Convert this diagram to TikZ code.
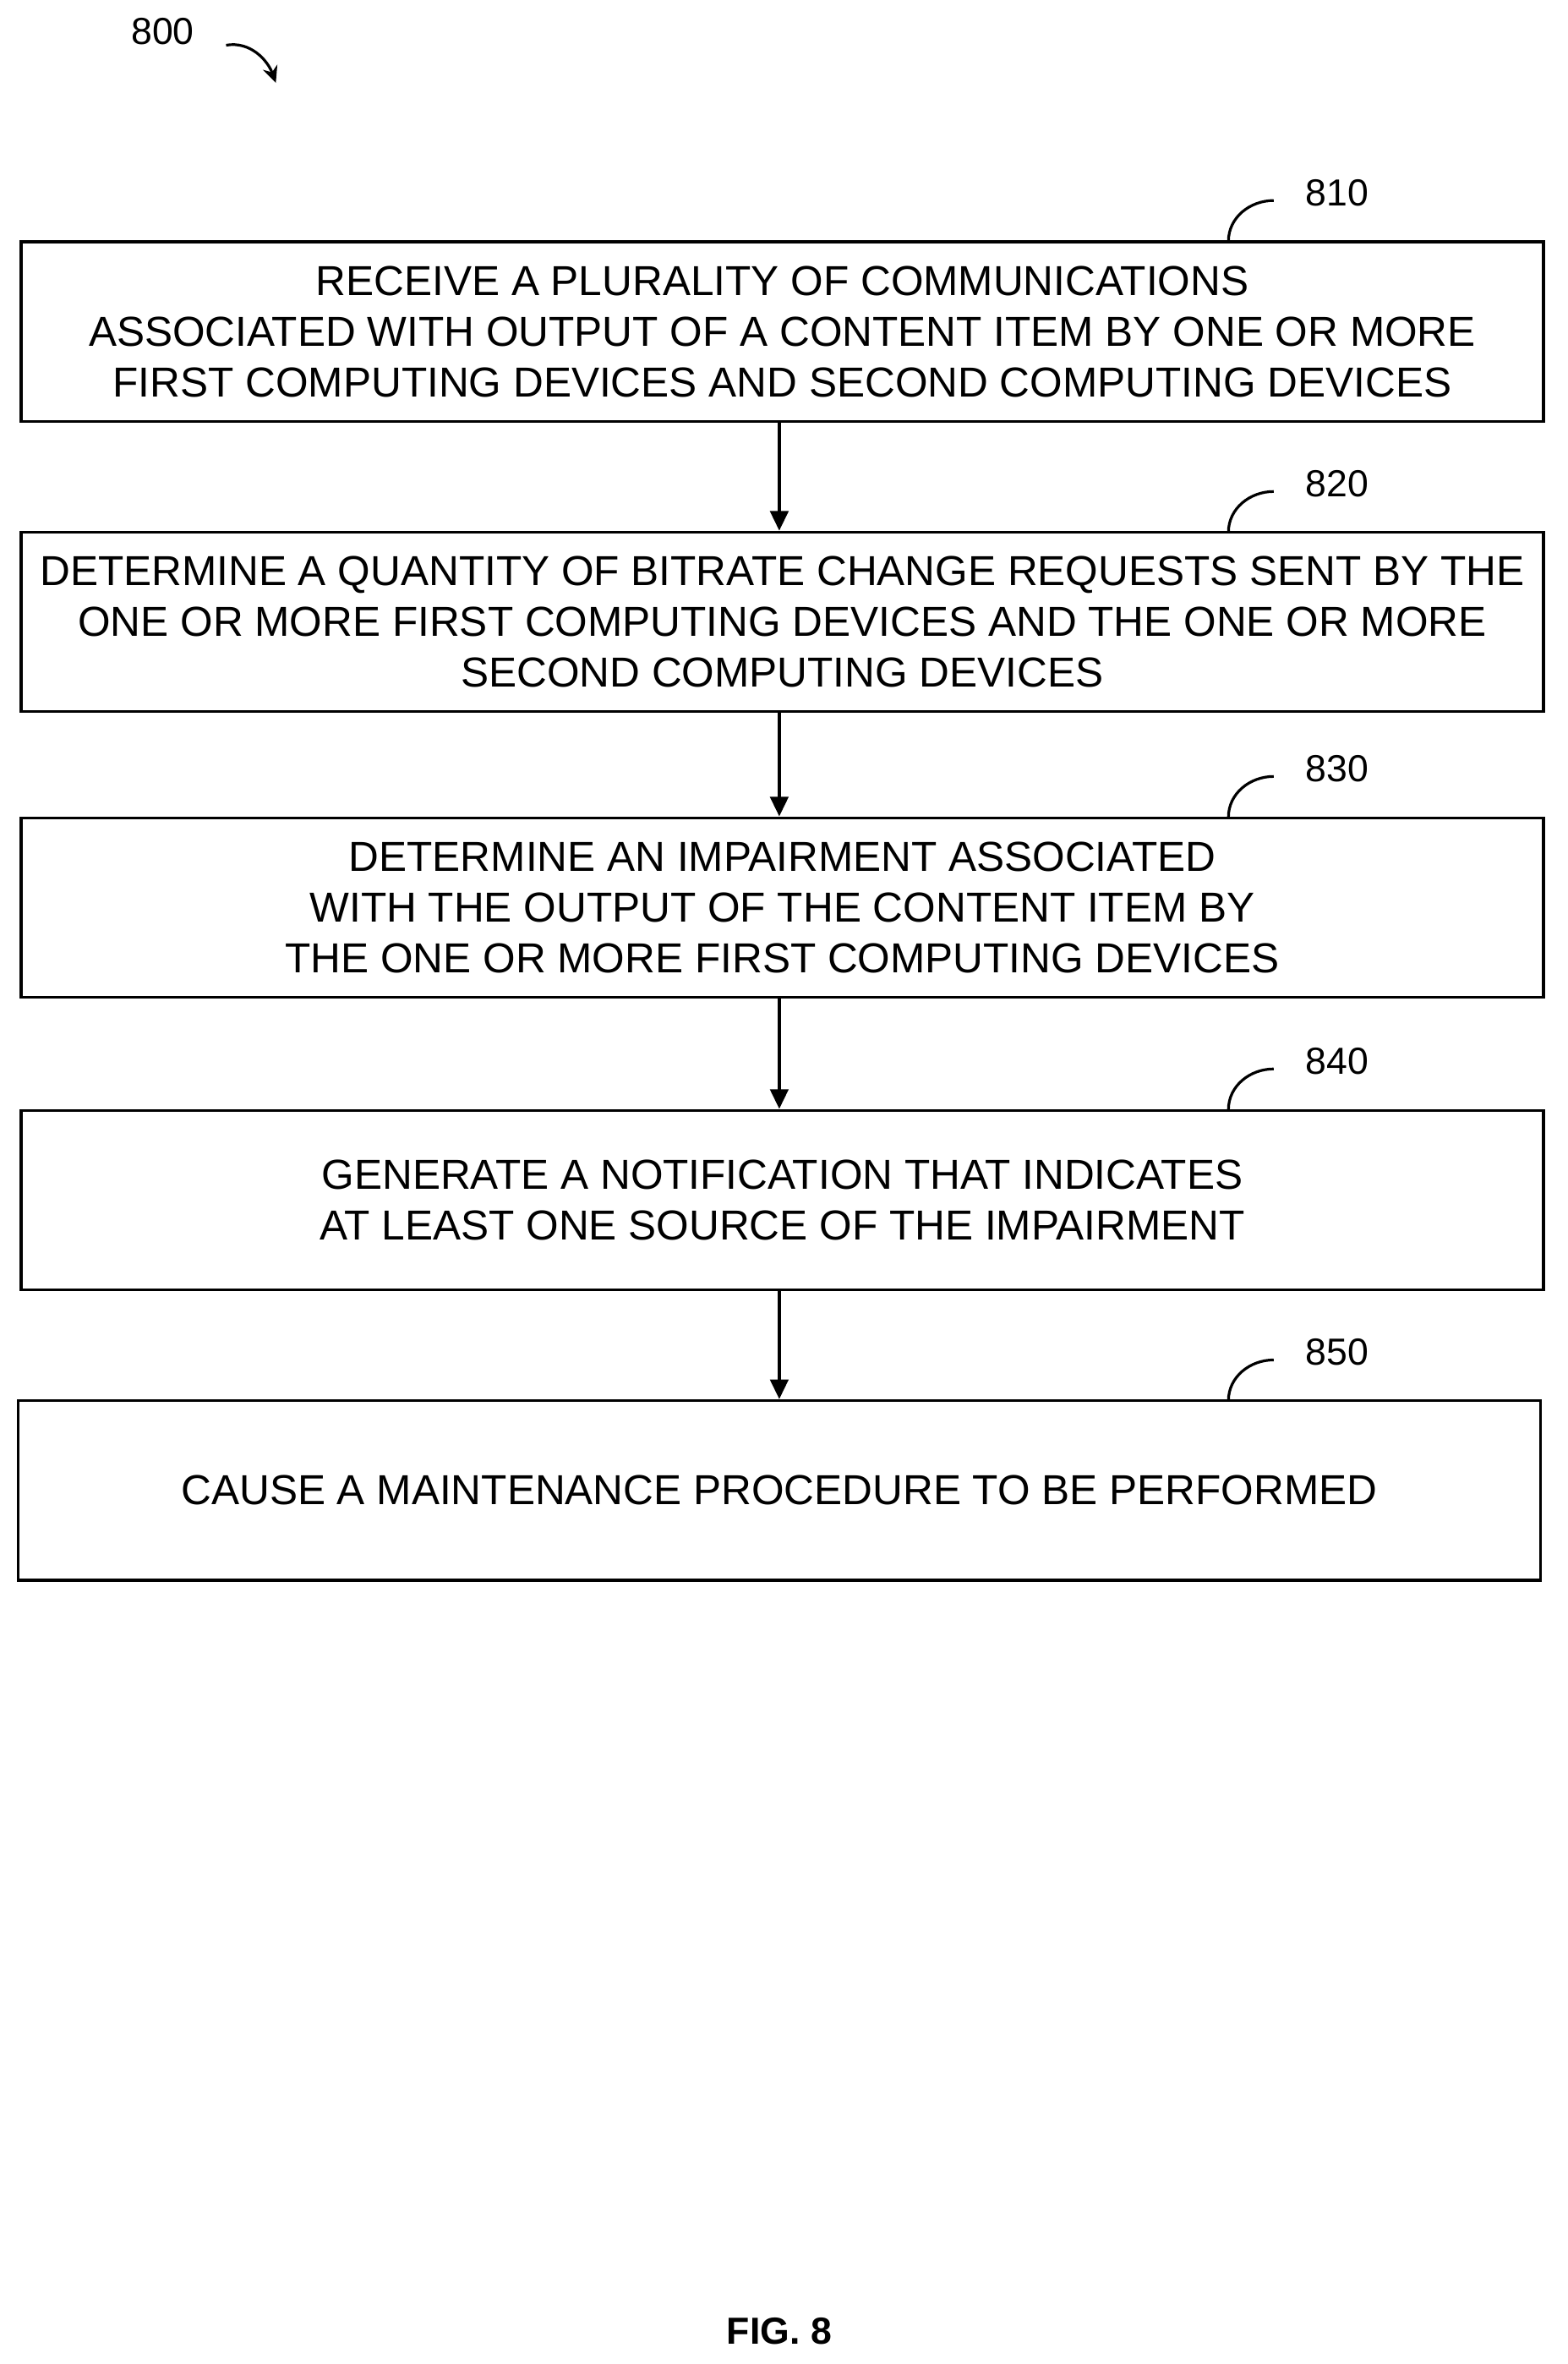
\documentclass[tikz,border=0pt]{standalone}
\usepackage{fontspec}
\setmainfont{Liberation Sans}
\usetikzlibrary{arrows.meta}
\begin{document}
\begin{tikzpicture}[x=1pt,y=-1pt,
every node/.style={font=\fontsize{25}{34}\selectfont},
stepbox/.style={draw,line width=2pt,minimum width=1010pt,minimum height=119pt,align=center,inner sep=0pt,
  font=\fontsize{27.8}{33.5}\selectfont},
flow/.style={-{Triangle[length=13pt,width=12pt]},line width=2pt},
hook/.style={line width=1.8pt}
]
\useasboundingbox (0,0) rectangle (1040,1568);
\node (n800) at (108,21) {800};
\draw[-{Stealth[length=11pt,width=10pt]},line width=1.8pt] (150,30) to[out=10,in=110] (183,55);

\node[stepbox] (s810) at (519,220) {RECEIVE A PLURALITY OF COMMUNICATIONS\\ASSOCIATED WITH OUTPUT OF A CONTENT ITEM BY ONE OR MORE\\FIRST COMPUTING DEVICES AND SECOND COMPUTING DEVICES};
\node[stepbox] (s820) at (519,412.5) {DETERMINE A QUANTITY OF BITRATE CHANGE REQUESTS SENT BY THE\\ONE OR MORE FIRST COMPUTING DEVICES AND THE ONE OR MORE\\SECOND COMPUTING DEVICES};
\node[stepbox] (s830) at (519,602) {DETERMINE AN IMPAIRMENT ASSOCIATED\\WITH THE OUTPUT OF THE CONTENT ITEM BY\\THE ONE OR MORE FIRST COMPUTING DEVICES};
\node[stepbox] (s840) at (519,796) {GENERATE A NOTIFICATION THAT INDICATES\\AT LEAST ONE SOURCE OF THE IMPAIRMENT};
\node[stepbox] (s850) at (517,988.5) {CAUSE A MAINTENANCE PROCEDURE TO BE PERFORMED};

\foreach \n/\y in {810/160,820/353,830/542,840/736,850/929}{
  \node (l\n) at (887,\y-32) {\n};
  \draw[hook] (815,\y) to[out=90,in=180] (845,\y-27);
}

\draw[flow] (s810.south -| 517,0) -- (s820.north -| 517,0);
\draw[flow] (s820.south -| 517,0) -- (s830.north -| 517,0);
\draw[flow] (s830.south -| 517,0) -- (s840.north -| 517,0);
\draw[flow] (s840.south -| 517,0) -- (s850.north -| 517,0);

\node[font=\fontsize{25}{28}\selectfont\bfseries] (fig) at (517,1546) {FIG. 8};
\end{tikzpicture}
\end{document}
